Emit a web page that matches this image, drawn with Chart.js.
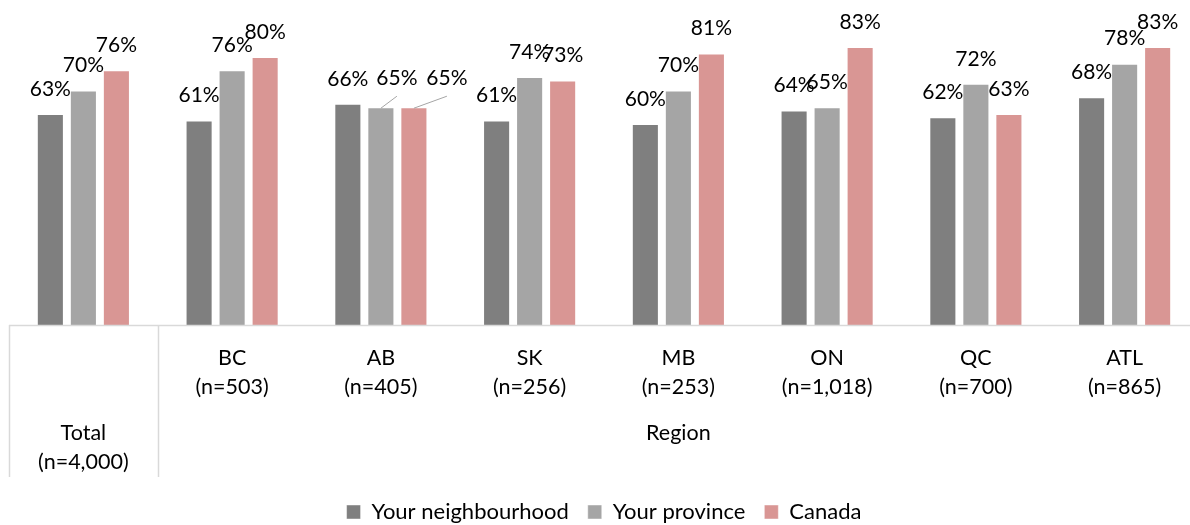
<!DOCTYPE html>
<html>
<head>
<meta charset="utf-8">
<script src="https://cdn.jsdelivr.net/npm/chart.js@4"></script>
<style>
    html, body { margin: 0; padding: 0; background: #fff; width: 1190px; height: 525px; overflow: hidden; }
    #wrap { width: 1210px; height: 533px; }
</style>
</head>
<body>
<div id="wrap"><canvas id="regionChart" width="1210" height="533"></canvas></div>
<script>
// Chart data
const categories = ['Total', 'BC', 'AB', 'SK', 'MB', 'ON', 'QC', 'ATL'];
const sampleSizes = ['(n=4,000)', '(n=503)', '(n=405)', '(n=256)', '(n=253)', '(n=1,018)', '(n=700)', '(n=865)'];
const groupLabel = 'Region';
const seriesNames = ['Your neighbourhood', 'Your province', 'Canada'];
const neighbourhood = [63, 61, 66, 61, 60, 64, 62, 68];
const province = [70, 76, 65, 74, 70, 65, 72, 78];
const canada = [76, 80, 65, 73, 81, 83, 63, 83];

const FONT = 'Lato, "Open Sans", sans-serif';

// labels pulled off their bar, joined back with a leader line ("dataset-index": [dx, dy])
const labelShift = { '1-2': [16, -4], '2-2': [33, -4] };

// Percent labels above each bar
const valueLabels = {
    id: 'valueLabels',
    afterDatasetsDraw(chart) {
        const ctx = chart.ctx;
        ctx.save();
        ctx.font = '21px ' + FONT;
        ctx.textAlign = 'center';
        ctx.textBaseline = 'middle';
        ctx.fillStyle = '#000';
        chart.data.datasets.forEach((ds, di) => {
            chart.getDatasetMeta(di).data.forEach((bar, i) => {
                const shift = labelShift[di + '-' + i];
                let x = bar.x, y = bar.y - 25;
                if (shift) {
                    x += shift[0];
                    y += shift[1];
                    ctx.strokeStyle = '#a5a5a5';
                    ctx.lineWidth = 1;
                    ctx.beginPath();
                    ctx.moveTo(bar.x, bar.y + 1);
                    ctx.lineTo(x, y + 18);
                    ctx.stroke();
                }
                ctx.fillText(ds.data[i] + '%', x, y);
            });
        });
        ctx.restore();
    }
};

// Two-level category axis: group names + sample sizes, with the "Region" band
const categoryAxis = {
    id: 'categoryAxis',
    afterDraw(chart) {
        const { ctx, chartArea } = chart;
        const xs = chart.scales.x;
        const step = xs.getPixelForValue(1) - xs.getPixelForValue(0);
        const base = chartArea.bottom;
        const split = xs.getPixelForValue(0) + step / 2;

        ctx.save();
        ctx.strokeStyle = '#d9d9d9';
        ctx.lineWidth = 1.5;
        ctx.beginPath();
        ctx.moveTo(chartArea.left, base + 0.5);
        ctx.lineTo(chartArea.right, base + 0.5);
        [chartArea.left, split, chartArea.right].forEach(px => {
            ctx.moveTo(Math.round(px) + 0.5, base);
            ctx.lineTo(Math.round(px) + 0.5, base + 152);
        });
        ctx.stroke();

        ctx.font = '21.5px ' + FONT;
        ctx.textAlign = 'center';
        ctx.textBaseline = 'middle';
        ctx.fillStyle = '#000';
        categories.forEach((c, i) => {
            const px = xs.getPixelForValue(i);
            const top = i === 0 ? 108 : 33;
            ctx.fillText(c, px, base + top);
            ctx.fillText(sampleSizes[i], px, base + top + 29);
        });
        ctx.fillText(groupLabel, (split + chartArea.right) / 2, base + 108);
        ctx.restore();
    }
};

const seriesColors = ['#7f7f7f', '#a5a5a5', '#d99694'];
const seriesData = [neighbourhood, province, canada];

new Chart(document.getElementById('regionChart'), {
    type: 'bar',
    data: {
        labels: categories,
        datasets: seriesNames.map((name, i) => ({
            label: name,
            data: seriesData[i],
            backgroundColor: seriesColors[i],
            borderColor: 'rgba(255,255,255,0.45)',
            borderWidth: 1,
            categoryPercentage: 0.666,
            barPercentage: 0.82
        }))
    },
    options: {
        responsive: false,
        animation: false,
        devicePixelRatio: 1,
        layout: { padding: { left: 9, right: 11, top: 0, bottom: 0 } },
        scales: {
            x: {
                grid: { display: false },
                border: { display: false },
                ticks: { display: false },
                afterFit(scale) { scale.height = 157; }
            },
            y: { display: false, min: 0, max: 97 }
        },
        plugins: {
            legend: {
                position: 'bottom',
                labels: {
                    boxWidth: 14,
                    boxHeight: 14,
                    padding: 19,
                    color: '#000',
                    font: { family: FONT, size: 22 }
                }
            },
            tooltip: { enabled: false }
        }
    },
    plugins: [valueLabels, categoryAxis]
});
</script>
</body>
</html>
